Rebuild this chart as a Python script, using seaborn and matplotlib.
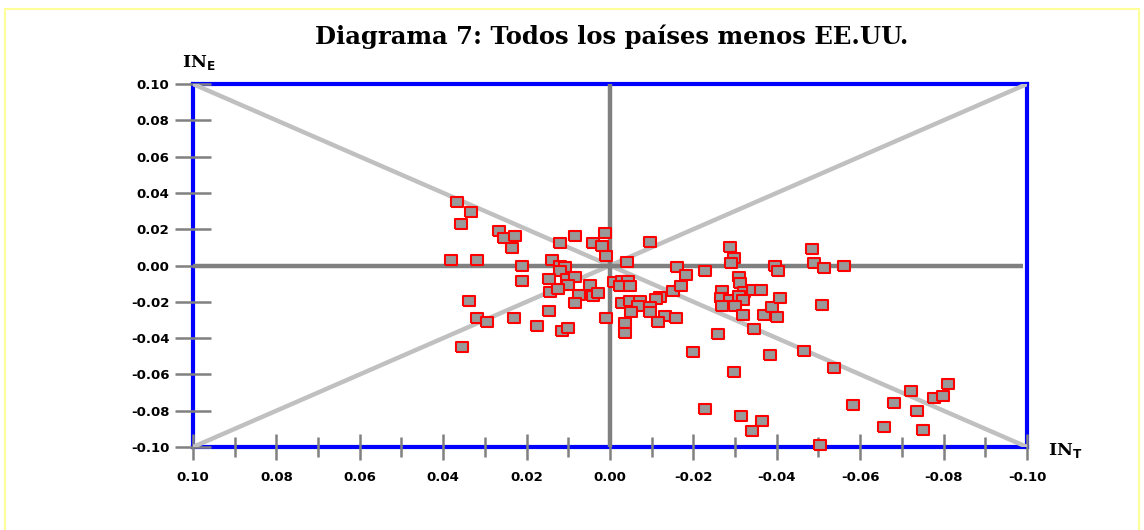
import matplotlib
matplotlib.use("Agg")
import matplotlib.pyplot as plt
import matplotlib.patches as mpatches
import seaborn as sns
import pandas as pd

# Country observations: IN_T (horizontal) and IN_E (vertical)
in_t = [
    0.0368, 0.0334, 0.0358, 0.0267, 0.0253, 0.0227, 0.0234, 0.0382, 0.0320, 0.0210,
    0.0210, 0.0138, 0.0121, 0.0085, 0.0040, 0.0018, 0.0013, 0.0010, 0.0120, 0.0107,
    0.0119, 0.0147, 0.0102, 0.0083, 0.0100, 0.0143, 0.0124, 0.0047, 0.0075, 0.0040,
    0.0028, 0.0083, 0.0337, 0.0320, 0.0296, 0.0229, 0.0147, 0.0174, 0.0114, 0.0100,
    0.0010, 0.0356,
    -0.0097, -0.0040, -0.0161, -0.0183, -0.0227, -0.0289, -0.0298, -0.0291, -0.0396, -0.0404,
    -0.0485, -0.0490, -0.0514, -0.0562, -0.0009, -0.0030, -0.0044, -0.0025, -0.0047, -0.0150,
    -0.0171, -0.0121, -0.0110, -0.0030, -0.0047, -0.0073, -0.0068, -0.0095, -0.0051, -0.0097,
    -0.0131, -0.0116, -0.0159, -0.0035, -0.0035, -0.0269, -0.0310, -0.0313, -0.0322, -0.0343,
    -0.0363, -0.0267, -0.0289, -0.0310, -0.0320, -0.0269, -0.0301, -0.0320, -0.0370, -0.0389,
    -0.0408, -0.0401, -0.0509, -0.0346, -0.0260, -0.0198, -0.0384, -0.0466, -0.0298, -0.0537,
    -0.0227, -0.0314, -0.0365, -0.0340, -0.0504, -0.0583, -0.0657, -0.0681, -0.0721, -0.0736,
    -0.0750, -0.0777, -0.0799, -0.0811,
]
in_e = [
    0.0350, 0.0297, 0.0230, 0.0192, 0.0154, 0.0160, 0.0099, 0.0033, 0.0033, 0.0000,
    -0.0088, 0.0033, 0.0126, 0.0160, 0.0126, 0.0110, 0.0180, 0.0050, -0.0005, -0.0010,
    -0.0030, -0.0077, -0.0077, -0.0066, -0.0110, -0.0148, -0.0132, -0.0110, -0.0165, -0.0170,
    -0.0154, -0.0209, -0.0198, -0.0290, -0.0313, -0.0290, -0.0253, -0.0335, -0.0363, -0.0346,
    -0.0290, -0.0450,
    0.0132, 0.0022, -0.0010, -0.0055, -0.0033, 0.0104, 0.0044, 0.0016, 0.0000, -0.0033,
    0.0093, 0.0016, -0.0016, 0.0000, -0.0093, -0.0088, -0.0088, -0.0115, -0.0115, -0.0143,
    -0.0115, -0.0176, -0.0187, -0.0209, -0.0198, -0.0198, -0.0225, -0.0231, -0.0258, -0.0258,
    -0.0280, -0.0313, -0.0290, -0.0319, -0.0374, -0.0143, -0.0066, -0.0099, -0.0148, -0.0137,
    -0.0137, -0.0181, -0.0192, -0.0170, -0.0192, -0.0225, -0.0225, -0.0275, -0.0275, -0.0231,
    -0.0181, -0.0286, -0.0220, -0.0352, -0.0379, -0.0478, -0.0495, -0.0473, -0.0588, -0.0566,
    -0.0791, -0.0830, -0.0857, -0.0912, -0.0989, -0.0769, -0.0890, -0.0758, -0.0692, -0.0802,
    -0.0907, -0.0731, -0.0720, -0.0654,
]

x_ticks = [0.10, 0.08, 0.06, 0.04, 0.02, 0.00, -0.02, -0.04, -0.06, -0.08, -0.10]
x_minor = [0.09, 0.07, 0.05, 0.03, 0.01, -0.01, -0.03, -0.05, -0.07, -0.09]
y_ticks = [-0.10, -0.08, -0.06, -0.04, -0.02, 0.00, 0.02, 0.04, 0.06, 0.08, 0.10]
title = "Diagrama 7: Todos los países menos EE.UU."

df = pd.DataFrame({"IN_T": in_t, "IN_E": in_e})

sns.set_style("white")
plt.rcParams["font.family"] = ["DejaVu Sans"]

fig = plt.figure(figsize=(11.44, 5.30), dpi=100)
ax = fig.add_axes([0.1687, 0.1566, 0.7290, 0.6849])

# Reference lines: axes through the origin and the two diagonals
ax.plot([0.10, -0.10], [0.10, -0.10], color="#c0c0c0", lw=3.2, zorder=1,
        solid_capstyle="butt")
ax.plot([0.10, -0.10], [-0.10, 0.10], color="#c0c0c0", lw=3.2, zorder=1,
        solid_capstyle="butt")
ax.plot([0.10, -0.099], [0, 0], color="#808080", lw=3.2, zorder=2,
        solid_capstyle="butt")
ax.plot([0, 0], [-0.10, 0.10], color="#808080", lw=3.2, zorder=2,
        solid_capstyle="butt")

# Rectangular markers, wider than tall
rect = [(-1.35, -1.0), (1.35, -1.0), (1.35, 1.0), (-1.35, 1.0), (-1.35, -1.0)]
sns.scatterplot(data=df, x="IN_T", y="IN_E", ax=ax, marker=rect, s=78,
                color="#999999", edgecolor="#ff0000", linewidth=1.5, zorder=3,
                clip_on=False)

ax.set_xlim(0.10, -0.10)
ax.set_ylim(-0.10, 0.10)
ax.set_xlabel("")
ax.set_ylabel("")

for sp in ax.spines.values():
    sp.set_color("#0000ff")
    sp.set_linewidth(3)
    sp.set_visible(True)
    sp.set_zorder(0.5)

ax.set_xticks(x_ticks)
ax.set_xticks(x_minor, minor=True)
ax.set_xticklabels([f"{v:.2f}" for v in x_ticks])
ax.set_yticks(y_ticks)
ax.set_yticklabels([f"{v:.2f}" for v in y_ticks])
ax.tick_params(axis="both", which="both", bottom=True, left=True, top=False,
               right=False, direction="inout", width=1.8, color="#808080",
               labelcolor="black", labelsize=9.5)
ax.tick_params(axis="y", which="major", length=26, pad=4)
ax.tick_params(axis="x", which="major", length=19, pad=8)
ax.tick_params(axis="x", which="minor", length=15)
for lab in ax.get_xticklabels() + ax.get_yticklabels():
    lab.set_fontweight("heavy")

fig.text(0.535, 0.930, title, ha="center", va="center", fontsize=17.5,
         fontweight="heavy", family=["DejaVu Serif"], color="black")
fig.text(0.159, 0.883, r"IN$_{\mathbf{E}}$", ha="left", va="center", fontsize=12.5,
         fontweight="heavy", family=["DejaVu Serif"], color="black")
fig.text(0.916, 0.150, r"IN$_{\mathbf{T}}$", ha="left", va="center", fontsize=12.5,
         fontweight="heavy", family=["DejaVu Serif"], color="black")

# Pale yellow outer frame (its lower edge runs past the bottom of the figure)
fig.patches.append(mpatches.Rectangle((5 / 1144, -20 / 530), 1134 / 1144, 541 / 530,
                                      transform=fig.transFigure, fill=False,
                                      edgecolor="#ffff99", lw=1.5))

fig.savefig("out.png", dpi=100)
